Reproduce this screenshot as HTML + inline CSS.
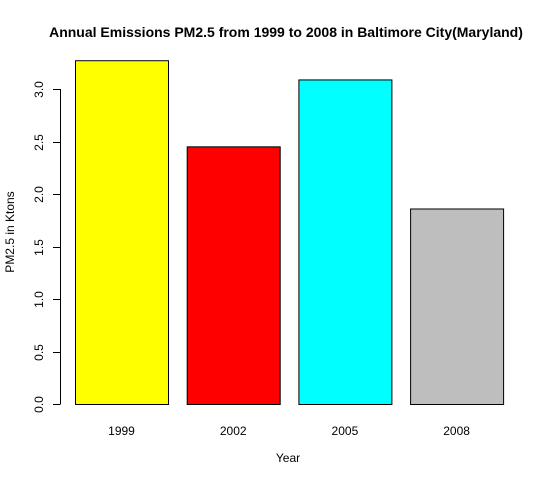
<!DOCTYPE html>
<html><head><meta charset="utf-8"><style>
html,body{margin:0;padding:0;background:#fff;}
svg{display:block;font-family:"Liberation Sans",Arial,sans-serif;}
</style></head><body>
<svg id="chart" width="550" height="480">
<text x="286" y="37" text-anchor="middle" font-size="14" font-weight="bold">Annual Emissions PM2.5 from 1999 to 2008 in Baltimore City(Maryland)</text>
<text x="288" y="462" text-anchor="middle" font-size="12">Year</text>
<text transform="translate(14,232) rotate(-90)" text-anchor="middle" font-size="12">PM2.5 in Ktons</text>
<g id="bars"></g><g id="yaxis"></g><g id="xlabels"></g>
</svg>
<script>
const categories = ["1999","2002","2005","2008"];
const values = [3.274, 2.454, 3.091, 1.862];
const colors = ["#ffff00","#ff0000","#00ffff","#bebebe"];
const yTicks = [0, 0.5, 1.0, 1.5, 2.0, 2.5, 3.0];
const yTickLabels = ["0.0","0.5","1.0","1.5","2.0","2.5","3.0"];
const NS="http://www.w3.org/2000/svg";
const y0=404, pxPerUnit=105;
function yScale(v){return y0-v*pxPerUnit;}
function xScale(i){return 75+i*111.7;}
const barW=93;
const bars=document.getElementById('bars');
values.forEach((v,i)=>{
  const r=document.createElementNS(NS,'rect');
  r.setAttribute('x',xScale(i)+0.5);
  r.setAttribute('y',yScale(v)+0.5);
  r.setAttribute('width',barW);
  r.setAttribute('height',y0-yScale(v));
  r.setAttribute('fill',colors[i]);
  r.setAttribute('stroke','#000');
  
  
  bars.appendChild(r);
  const t=document.createElementNS(NS,'text');
  t.setAttribute('x',xScale(i)+barW/2);
  t.setAttribute('y',435);
  t.setAttribute('text-anchor','middle');
  t.setAttribute('font-size','12');
  t.textContent=categories[i];
  
  
  document.getElementById('xlabels').appendChild(t);
});
const ya=document.getElementById('yaxis');
const ax=document.createElementNS(NS,'line');
ax.setAttribute('x1',60.5);ax.setAttribute('x2',60.5);
ax.setAttribute('y1',yScale(yTicks[0]));ax.setAttribute('y2',yScale(yTicks[yTicks.length-1]));
ax.setAttribute('stroke','#000');


ya.appendChild(ax);
yTicks.forEach((v,i)=>{
  const y=Math.round(yScale(v))+0.5;
  const l=document.createElementNS(NS,'line');
  l.setAttribute('x1',53);l.setAttribute('x2',60.5);
  l.setAttribute('y1',y);l.setAttribute('y2',y);
  l.setAttribute('stroke','#000');
  
  
  ya.appendChild(l);
  const t=document.createElementNS(NS,'text');
  t.setAttribute('transform','translate(43,'+y+') rotate(-90)');
  t.setAttribute('text-anchor','middle');
  t.setAttribute('font-size','12');
  t.textContent=yTickLabels[i];
  
  
  ya.appendChild(t);
});
</script>
</body></html>
